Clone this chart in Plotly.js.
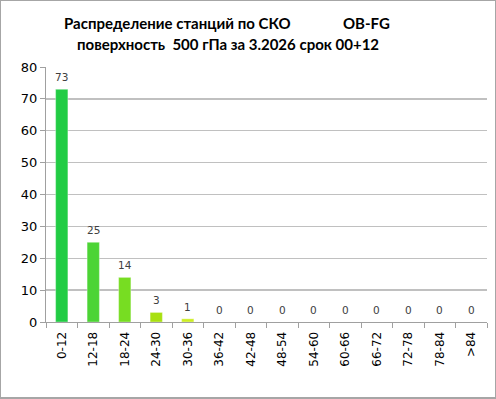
<!DOCTYPE html>
<html>
<head>
<meta charset="utf-8">
<script src="https://cdn.plot.ly/plotly-3.0.1.min.js"></script>
<style>
html,body{margin:0;padding:0;background:#fff;}
#wrap{position:relative;width:496px;height:399px;}
#chart{width:496px;height:399px;}
#frame{position:absolute;left:0;top:0;width:494px;height:396px;border:1px solid #a6a6a6;border-bottom-width:2px;border-right-width:1px;pointer-events:none;}
</style>
</head>
<body>
<div id="wrap"><div id="chart"></div><div id="frame"></div></div>
<script>
var categories = ["0-12","12-18","18-24","24-30","30-36","36-42","42-48","48-54","54-60","60-66","66-72","72-78","78-84",">84"];
var counts = [73,25,14,3,1,0,0,0,0,0,0,0,0,0];
var barColors = ["#22cc44","#4cd435","#77dd22","#a8e010","#ccee22","#ccee22","#ccee22","#ccee22","#ccee22","#ccee22","#ccee22","#ccee22","#ccee22","#ccee22"];
var yTicks = [0,10,20,30,40,50,60,70,80];
var titleLine1 = "Распределение станций по СКО";
var titleTag = "OB-FG";
var titleLine2 = "поверхность  500 гПа за 3.2026 срок 00+12";

var ann = categories.map(function(c,i){
  return {x:c, y:counts[i], xref:'x', yref:'y', text:String(counts[i]), showarrow:false,
    yanchor:'bottom', yshift:4, font:{family:'DejaVu Sans, Verdana, sans-serif', size:10.5, color:'#404040'}};
});
var titleFont = {family:'Lato, Calibri, sans-serif', size:15, color:'#000', weight:'bold'};
ann.push({xref:'paper', yref:'paper', x:(178-46)/441.5, y:1, yshift:44, xanchor:'center', yanchor:'middle', showarrow:false, text:'<b>'+titleLine1+'</b>', font:titleFont});
ann.push({xref:'paper', yref:'paper', x:(367-46)/441.5, y:1, yshift:44, xanchor:'center', yanchor:'middle', showarrow:false, text:'<b>'+titleTag+'</b>', font:titleFont});
ann.push({xref:'paper', yref:'paper', x:(228-46)/441.5, y:1, yshift:23, xanchor:'center', yanchor:'middle', showarrow:false, text:'<b>'+titleLine2+'</b>', font:titleFont});

var trace = {
  type:'bar', x:categories, y:counts,
  marker:{color:barColors, line:{color:'rgba(255,255,255,0.35)', width:1}},
  hoverinfo:'none'
};
var layout = {
  width:496, height:399,
  margin:{l:46, r:8.5, t:67, b:77, pad:0},
  paper_bgcolor:'#fff', plot_bgcolor:'#fff',
  showlegend:false, bargap:0.61,
  xaxis:{type:'category', tickson:'boundaries', ticks:'outside', ticklen:5, tickcolor:'#a0a0a0',
    showline:true, linecolor:'#a0a0a0', linewidth:1, showgrid:false, tickangle:-90, ticklabelstandoff:4,
    tickfont:{family:'DejaVu Sans, Verdana, sans-serif', size:12, color:'#000'}, fixedrange:true},
  yaxis:{range:[0,80], tickvals:yTicks, ticks:'outside', ticklen:5, tickcolor:'#a0a0a0',
    showline:true, linecolor:'#a0a0a0', linewidth:1, showgrid:true, gridcolor:'#c0c0c0', gridwidth:1.3,
    zeroline:false, tickfont:{family:'DejaVu Sans, Verdana, sans-serif', size:13, color:'#000'}, fixedrange:true},
  annotations:ann
};
Plotly.newPlot('chart',[trace],layout,{displayModeBar:false, staticPlot:true});
</script>
</body>
</html>
